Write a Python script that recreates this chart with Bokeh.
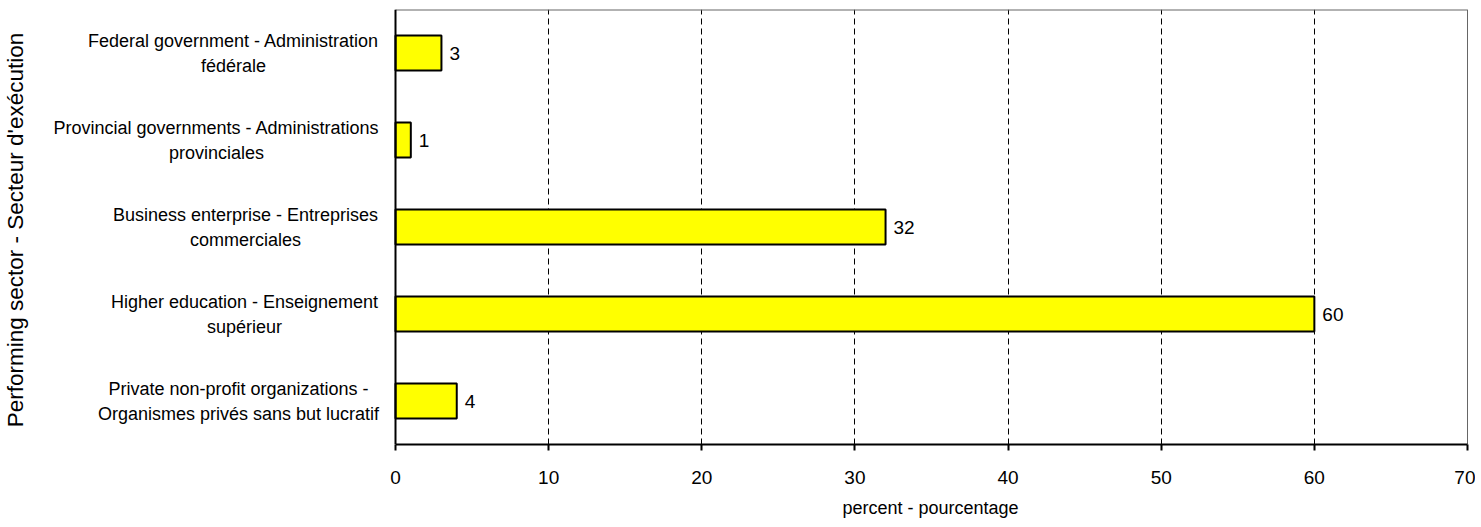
import math
from bokeh.plotting import figure
from bokeh.models import Range1d, FixedTicker, ColumnDataSource, Span, Title
from bokeh.core.properties import value
from bokeh.embed import file_html
from bokeh.resources import INLINE

# ---- data ----
categories = [
    "Federal government - Administration\nfédérale",
    "Provincial governments - Administrations\nprovinciales",
    "Business enterprise - Entreprises\ncommerciales",
    "Higher education - Enseignement\nsupérieur",
    "Private non-profit organizations -\nOrganismes privés sans but lucratif",
]
values = [3, 1, 32, 60, 4]
value_labels = ["3", "1", "32", "60", "4"]
x_ticks = [0, 10, 20, 30, 40, 50, 60, 70]
x_title = "percent - pourcentage"
y_title = "Performing sector - Secteur d'exécution"

# ---- layout / styling ----
FONT = "Liberation Sans"
W, H = 1475, 527
AXIS_PX = 395          # pixel position of x = 0
RIGHT_PX = 1467        # pixel position of x = 70
TOP_PX, BOTTOM_PX = 9, 444
PAD = 2
X_TITLE_LEFT_PX = 842
label_dx = [-162, -179, -150, -151, -157]   # px offsets of label centres from axis

x_min, x_max = x_ticks[0], x_ticks[-1]
ppu = (RIGHT_PX - AXIS_PX) / (x_max - x_min)
n = len(categories)
ys = [n - 1 - i + 0.5 for i in range(n)]

bars = ColumnDataSource(dict(y=ys, value=values, label=value_labels))
cats = ColumnDataSource(dict(y=ys, text=categories, dx=label_dx, x=[x_min] * n))

p = figure(width=W, height=H,
           x_range=Range1d(x_min - AXIS_PX / ppu, x_max + PAD / ppu),
           y_range=Range1d(0, n),
           output_backend="svg", toolbar_location=None, y_axis_location=None,
           min_border_left=0, min_border_right=W - RIGHT_PX - PAD,
           min_border_top=TOP_PX, min_border_bottom=H - BOTTOM_PX)
p.background_fill_color = "white"
p.border_fill_color = "white"
p.outline_line_color = None

# grid
p.ygrid.grid_line_color = None
p.xgrid.ticker = FixedTicker(ticks=x_ticks[1:-1])
p.xgrid.grid_line_color = "black"
p.xgrid.grid_line_width = 1
p.xgrid.grid_line_dash = "6 4"

# top and right border of the plot area
p.segment(x0=[x_min], y0=[n], x1=[x_max], y1=[n], line_color="#666666", line_width=2)
p.segment(x0=[x_max], y0=[0], x1=[x_max], y1=[n], line_color="#666666", line_width=1)

p.hbar(y="y", left=x_min, right="value", height=0.4, source=bars,
       fill_color="#FFFF00", line_color="black", line_width=2)

# left axis line
p.add_layout(Span(location=x_min, dimension="height", line_color="black", line_width=2))

p.text(x="value", y="y", text="label", source=bars, x_offset=8,
       text_align="left", text_baseline="middle",
       text_font=value(FONT), text_font_size="19px", text_color="black")

# category labels
p.text(x="x", y="y", text="text", source=cats, x_offset="dx",
       text_align="center", text_baseline="middle", text_line_height=1.25,
       text_font=value(FONT), text_font_size="18px", text_color="black")

# y title
p.text(x=[x_min], y=[n / 2], text=[y_title], x_offset=15 - AXIS_PX, y_offset=3,
       angle=math.pi / 2, text_align="center", text_baseline="middle",
       text_font=value(FONT), text_font_size="22.5px", text_color="black")

# x axis
xa = p.xaxis[0]
xa.bounds = (x_min, x_max)
xa.ticker = FixedTicker(ticks=x_ticks)
xa.axis_line_width = 2
xa.axis_line_color = "black"
xa.major_tick_line_width = 2
xa.major_tick_line_color = "black"
xa.major_tick_out = 6
xa.major_tick_in = 0
xa.minor_tick_line_color = None
xa.major_label_text_font = FONT
xa.major_label_text_font_size = "19px"
xa.major_label_text_color = "black"
xa.major_label_standoff = 20

# x title under the data area
p.add_layout(Title(text=x_title, align="left", offset=X_TITLE_LEFT_PX,
                   text_font=FONT, text_font_size="18px", text_font_style="normal",
                   text_color="black", standoff=19), "below")

open("out.html", "w").write(file_html(p, INLINE))
